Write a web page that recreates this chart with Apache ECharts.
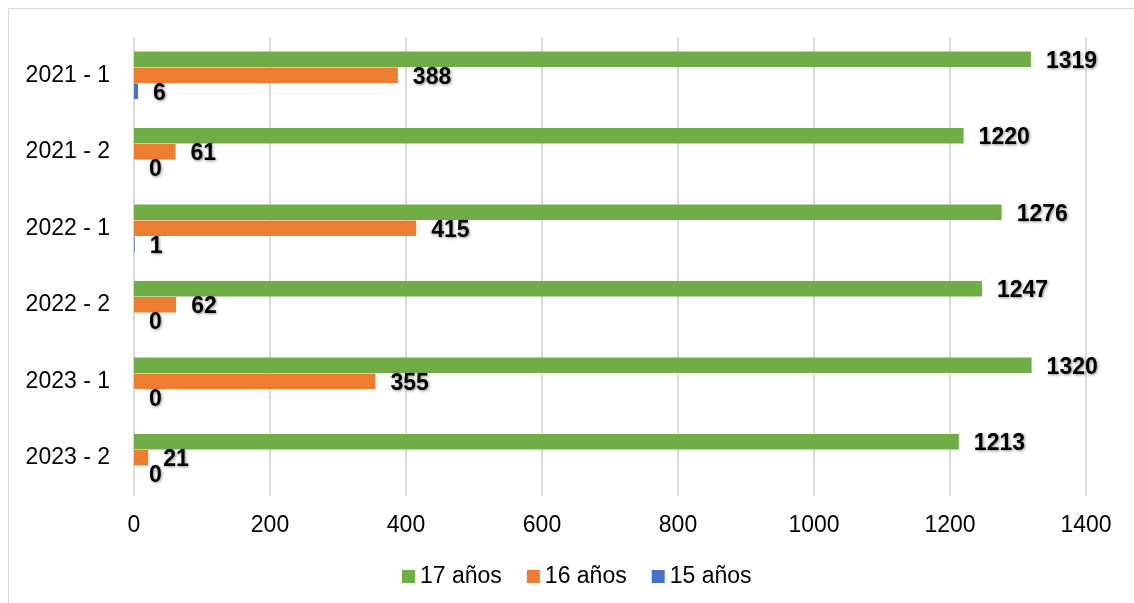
<!DOCTYPE html>
<html>
<head>
<meta charset="utf-8">
<script src="https://cdn.jsdelivr.net/npm/echarts@6/dist/echarts.min.js"></script>
<style>
  html, body { margin: 0; padding: 0; background: #fff; overflow: hidden; }
  .frame {
    position: absolute; left: 8px; top: 8px;
    width: 1200px; height: 700px;
    border: 1px solid #d9d9d9; box-sizing: border-box;
  }
  #chart { position: absolute; left: 0; top: 0; width: 1134px; height: 603px; }
</style>
</head>
<body>
<div class="frame"></div>
<div id="chart"></div>
<script>
const categories = ["2021 - 1", "2021 - 2", "2022 - 1", "2022 - 2", "2023 - 1", "2023 - 2"];
const seriesNames = ["17 años", "16 años", "15 años"];
const age17 = [1319, 1220, 1276, 1247, 1320, 1213];
const age16 = [388, 61, 415, 62, 355, 21];
const age15 = [6, 0, 1, 0, 0, 0];
const xTicks = [0, 200, 400, 600, 800, 1000, 1200, 1400];

const colors = ["#70AD47", "#ED7D31", "#4472C4"];
const font = "'Liberation Sans', Arial, sans-serif";

const chart = echarts.init(document.getElementById("chart"));

const valueLabel = {
  show: true,
  position: "right",
  distance: 15,
  offset: [0, 2],
  color: "#000",
  fontFamily: font,
  fontSize: 23,
  fontWeight: "bold",
  textShadowColor: "rgba(0,0,0,0.45)",
  textShadowBlur: 3,
  textShadowOffsetX: 1,
  textShadowOffsetY: 1,
};

chart.setOption({
  backgroundColor: "transparent",
  animation: false,
  grid: { left: 134, right: 48, top: 37, bottom: 107 },
  legend: {
    data: seriesNames,
    bottom: 10,
    left: 397,
    icon: "rect",
    itemWidth: 13,
    itemHeight: 13,
    itemGap: 25,
    textStyle: { color: "#000", fontFamily: font, fontSize: 23 },
  },
  xAxis: {
    type: "value",
    min: xTicks[0],
    max: xTicks[xTicks.length - 1],
    interval: 200,
    axisLine: { show: false },
    axisTick: { show: false },
    axisLabel: { color: "#000", fontFamily: font, fontSize: 23, margin: 18, formatter: v => String(v) },
    splitLine: { lineStyle: { color: "#d9d9d9", width: 2 } },
  },
  yAxis: {
    type: "category",
    inverse: true,
    data: categories,
    axisLine: { show: false },
    axisTick: { show: false },
    axisLabel: { color: "#000", fontFamily: font, fontSize: 23, margin: 24 },
  },
  series: [age17, age16, age15].map((d, i) => ({
    name: seriesNames[i],
    type: "bar",
    data: d,
    barWidth: 15.5,
    barGap: "3%",
    itemStyle: { color: colors[i] },
    label: valueLabel,
  })),
});
</script>
</body>
</html>
